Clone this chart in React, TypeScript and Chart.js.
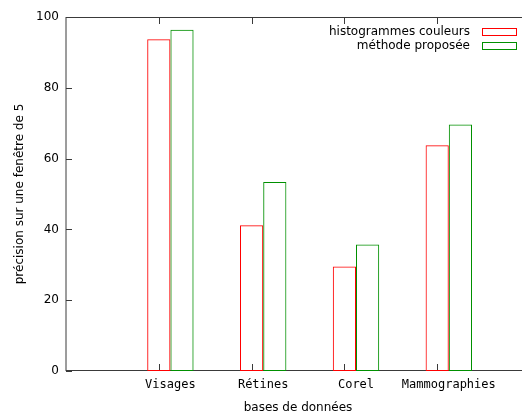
import React, { useEffect, useRef } from "react";
import { Chart, registerables } from "chart.js";

Chart.register(...registerables);

const categories = ["Visages", "Rétines", "Corel", "Mammographies"];
const histogrammesCouleurs = [93.7, 41.2, 29.5, 63.8];
const methodeProposee = [96.4, 53.4, 35.7, 69.6];
const seriesLabels = ["histogrammes couleurs", "méthode proposée"];
const yTicks = [0, 20, 40, 60, 80, 100];

const FONT = "'DejaVu Sans', sans-serif";
const MONO = "'DejaVu Sans Mono', monospace";

const framePlugin = {
  id: "gnuFrame",
  beforeDatasetsDraw(chart: any) {
    const { ctx, chartArea } = chart;
    const x = chart.scales.x;
    const y = chart.scales.y;
    const { left, top, right, bottom } = chartArea;
    ctx.save();
    ctx.strokeStyle = "#3a3a3a";
    ctx.lineWidth = 1;
    ctx.beginPath();
    ctx.moveTo(left, top);
    ctx.lineTo(left, bottom);
    ctx.moveTo(left, Math.round(top) + 0.5);
    ctx.lineTo(right, Math.round(top) + 0.5);
    ctx.moveTo(left, Math.round(bottom) - 0.5);
    ctx.lineTo(right, Math.round(bottom) - 0.5);
    yTicks.forEach((v) => {
      const py = Math.round(y.getPixelForValue(v)) + 0.5;
      ctx.moveTo(left, py);
      ctx.lineTo(left + 6, py);
    });
    categories.forEach((_, i) => {
      const px = Math.round(x.getPixelForValue(i)) + 0.5;
      ctx.moveTo(px, bottom);
      ctx.lineTo(px, bottom - 7);
      ctx.moveTo(px, top);
      ctx.lineTo(px, top + 7);
    });
    ctx.stroke();
    ctx.restore();
  },
  afterDraw(chart: any) {
    const { ctx, chartArea } = chart;
    ctx.save();
    ctx.font = `12px ${FONT}`;
    ctx.textAlign = "right";
    ctx.textBaseline = "middle";
    chart.data.datasets.forEach((ds: any, i: number) => {
      const cy = chartArea.top + 14.5 + i * 14;
      ctx.fillStyle = "#000";
      ctx.fillText(ds.label, 470, cy);
      ctx.strokeStyle = ds.borderColor;
      ctx.lineWidth = 1;
      ctx.strokeRect(482.5, Math.round(cy) - 3.5, 34, 7);
    });
    ctx.restore();
  },
};

export default function App() {
  const ref = useRef<HTMLCanvasElement>(null);
  useEffect(() => {
    if (!ref.current) return;
    const chart = new Chart(ref.current, {
      type: "bar",
      data: {
        datasets: [
          {
            label: seriesLabels[0],
            data: histogrammesCouleurs.map((v, i) => ({ x: i + 0.125, y: v })),
            backgroundColor: "rgba(0,0,0,0)",
            borderColor: "#ff0000",
            borderWidth: 1,
            borderSkipped: false,
          },
          {
            label: seriesLabels[1],
            data: methodeProposee.map((v, i) => ({ x: i + 0.125, y: v })),
            backgroundColor: "rgba(0,0,0,0)",
            borderColor: "#009000",
            borderWidth: 1,
            borderSkipped: false,
          },
        ],
      },
      options: {
        animation: false,
        responsive: false,
        devicePixelRatio: 1,
        categoryPercentage: 0.5,
        barPercentage: 1,
        layout: { padding: { top: 17, right: 0, left: 0, bottom: 0 } },
        plugins: { legend: { display: false }, tooltip: { enabled: false } },
        scales: {
          x: {
            type: "linear",
            min: -1,
            max: 4,
            offset: false,
            grid: { display: false, drawTicks: false, offset: false },
            border: { display: false },
            afterBuildTicks: (s: any) => {
              s.ticks = categories.map((_, i) => ({ value: i + 0.125 }));
            },
            afterFit: (s: any) => {
              s.height = 41;
            },
            ticks: {
              autoSkip: false,
              maxRotation: 0,
              padding: 7,
              color: "#000",
              font: { family: MONO, size: 12 },
              callback: (_v: any, idx: number) => categories[idx],
            },
            title: {
              display: true,
              text: "bases de données",
              color: "#000",
              font: { family: FONT, size: 12 },
              padding: { top: 0, bottom: -3 },
            },
          },
          y: {
            min: 0,
            max: 100,
            grid: { display: false, drawTicks: false },
            border: { display: false },
            afterBuildTicks: (s: any) => {
              s.ticks = yTicks.map((v) => ({ value: v }));
            },
            afterFit: (s: any) => {
              s.width = 66;
            },
            ticks: {
              padding: 7,
              color: "#000",
              font: { family: FONT, size: 12 },
            },
            title: {
              display: true,
              text: "précision sur une fenêtre de 5",
              color: "#000",
              font: { family: FONT, size: 12 },
              padding: { top: 13, bottom: 0 },
            },
          },
        },
      },
      plugins: [framePlugin],
    } as any);
    return () => chart.destroy();
  }, []);
  return (
    <div
      style={{
        position: "fixed",
        left: 0,
        top: 0,
        width: 522,
        height: 412,
        overflow: "hidden",
        background: "#fff",
      }}
    >
      <canvas ref={ref} width={530} height={412} style={{ display: "block" }} />
    </div>
  );
}
